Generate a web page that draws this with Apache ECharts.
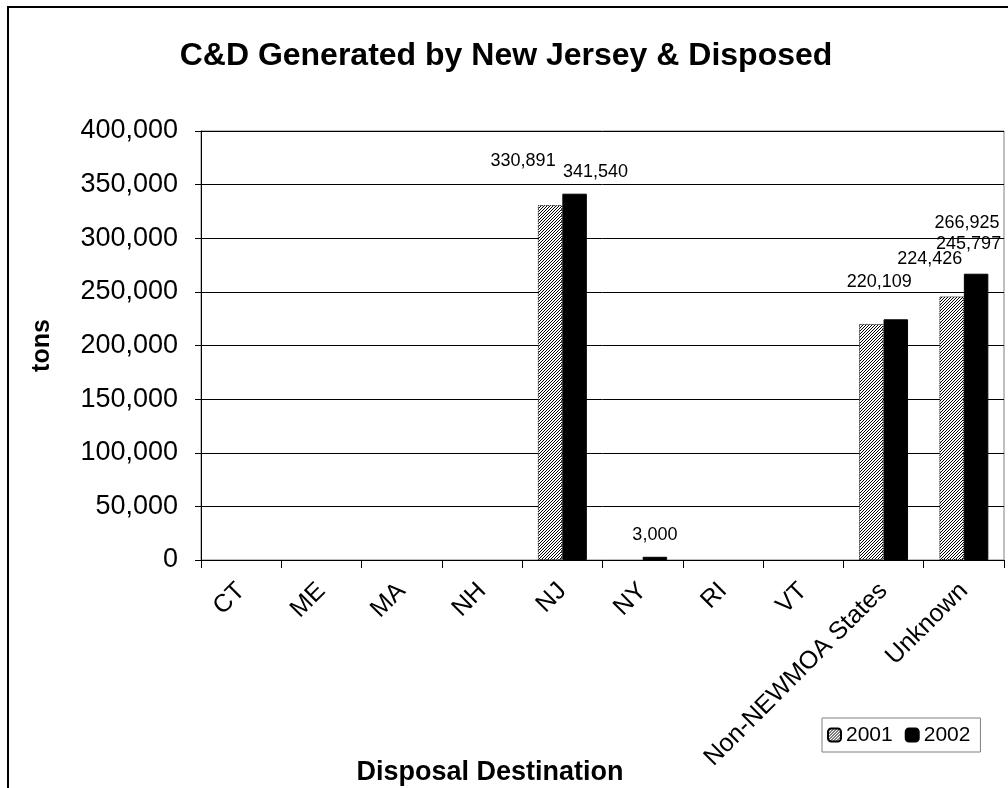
<!DOCTYPE html>
<html>
<head>
<meta charset="utf-8">
<script src="https://cdn.jsdelivr.net/npm/echarts@6/dist/echarts.min.js"></script>
<style>
  html, body { margin: 0; padding: 0; background: #fff; }
  #chart { width: 1008px; height: 788px; }
</style>
</head>
<body>
<div id="chart"></div>
<script>
// Disposal destinations and tonnage of New Jersey C&D waste
const categories = ['CT', 'ME', 'MA', 'NH', 'NJ', 'NY', 'RI', 'VT', 'Non-NEWMOA States', 'Unknown'];
const tons2001 = [null, null, null, null, 330891, null, null, null, 220109, 245797];
const tons2002 = [null, null, null, null, 341540, 3000, null, null, 224426, 266925];
const seriesNames = ['2001', '2002'];

// Nudges for value labels so neighbouring labels don't collide
const labelShift2001 = { 4: [-27, -30], 8: [8, -28], 9: [17, -38] };
const labelShift2002 = { 4: [21, -8], 5: [0, -8], 8: [34, -46], 9: [-9, -37] };

const FONT = '"Liberation Sans", Arial, Helvetica, sans-serif';

// Diagonal hatch fill for the 2001 bars
function hatchPattern() {
  const c = document.createElement('canvas');
  c.width = 3; c.height = 3;
  const g = c.getContext('2d');
  g.fillStyle = '#fff';
  g.fillRect(0, 0, 3, 3);
  g.fillStyle = '#000';
  for (let i = 0; i < 3; i++) {
    g.fillRect(i, 2 - i, 1, 1);
  }
  return c;
}
const hatch = { image: hatchPattern(), repeat: 'repeat' };

function fmt(v) {
  return v.toLocaleString('en-US');
}

function buildData(values, shifts) {
  return values.map((v, i) => {
    const item = { value: v };
    if (v != null && shifts[i]) {
      item.label = { offset: shifts[i] };
    }
    return item;
  });
}

const labelStyle = {
  show: true,
  position: 'top',
  fontSize: 18,
  fontFamily: FONT,
  color: '#000',
  formatter: p => (p.value == null ? '' : fmt(p.value))
};

const chart = echarts.init(document.getElementById('chart'), null, { renderer: 'canvas' });

chart.setOption({
  animation: false,
  backgroundColor: '#fff',
  title: {
    text: 'C&D Generated by New Jersey & Disposed',
    left: 501,
    textAlign: 'center',
    top: 35,
    textStyle: { fontFamily: FONT, fontSize: 32, fontWeight: 'bold', color: '#000' }
  },
  legend: {
    left: 822,
    top: 718,
    orient: 'horizontal',
    itemWidth: 13,
    itemHeight: 13,
    itemGap: 12,
    padding: [5, 10, 5, 5],
    borderColor: '#808080',
    borderWidth: 1,
    textStyle: { fontFamily: FONT, fontSize: 21, lineHeight: 24, color: '#000' },
    data: seriesNames
  },
  grid: {
    left: 201,
    right: 4,
    top: 131,
    bottom: 228,
    show: true,
    borderColor: '#808080',
    borderWidth: 1,
    containLabel: false
  },
  xAxis: {
    type: 'category',
    data: categories,
    axisLine: { lineStyle: { color: '#000', width: 1 } },
    axisTick: { show: true, alignWithLabel: false, length: 8, lineStyle: { color: '#000' } },
    axisLabel: {
      interval: 0,
      rotate: 45,
      margin: 27,
      fontSize: 25,
      fontFamily: FONT,
      color: '#000'
    }
  },
  yAxis: {
    type: 'value',
    min: 0,
    max: 400000,
    interval: 50000,
    name: 'tons',
    nameLocation: 'middle',
    nameGap: 146,
    nameTextStyle: { fontFamily: FONT, fontSize: 25, fontWeight: 'bold', color: '#000' },
    axisLine: { show: true, lineStyle: { color: '#000', width: 1 } },
    axisTick: { show: true, length: 6, lineStyle: { color: '#000' } },
    splitLine: { show: true, lineStyle: { color: '#000', width: 1 } },
    axisLabel: {
      margin: 23,
      fontSize: 27,
      fontFamily: FONT,
      color: '#000',
      formatter: v => fmt(v)
    }
  },
  series: [
    {
      name: seriesNames[0],
      type: 'bar',
      data: buildData(tons2001, labelShift2001),
      barGap: '0%',
      barCategoryGap: '39%',
      itemStyle: { color: hatch, borderColor: '#000', borderWidth: 1, borderType: 'dotted' },
      label: labelStyle
    },
    {
      name: seriesNames[1],
      type: 'bar',
      data: buildData(tons2002, labelShift2002),
      barGap: '0%',
      barCategoryGap: '39%',
      itemStyle: { color: '#000', borderColor: '#000', borderWidth: 1 },
      label: labelStyle
    }
  ],
  graphic: [
    {
      type: 'rect',
      silent: true,
      shape: { x: 8, y: 7, width: 1100, height: 900 },
      style: { fill: null, stroke: '#000', lineWidth: 2 }
    },
    {
      type: 'text',
      silent: true,
      style: {
        x: 490,
        y: 773,
        text: 'Disposal Destination',
        font: 'bold 27px ' + FONT,
        fill: '#000',
        align: 'center',
        verticalAlign: 'middle'
      }
    }
  ]
});
</script>
</body>
</html>
